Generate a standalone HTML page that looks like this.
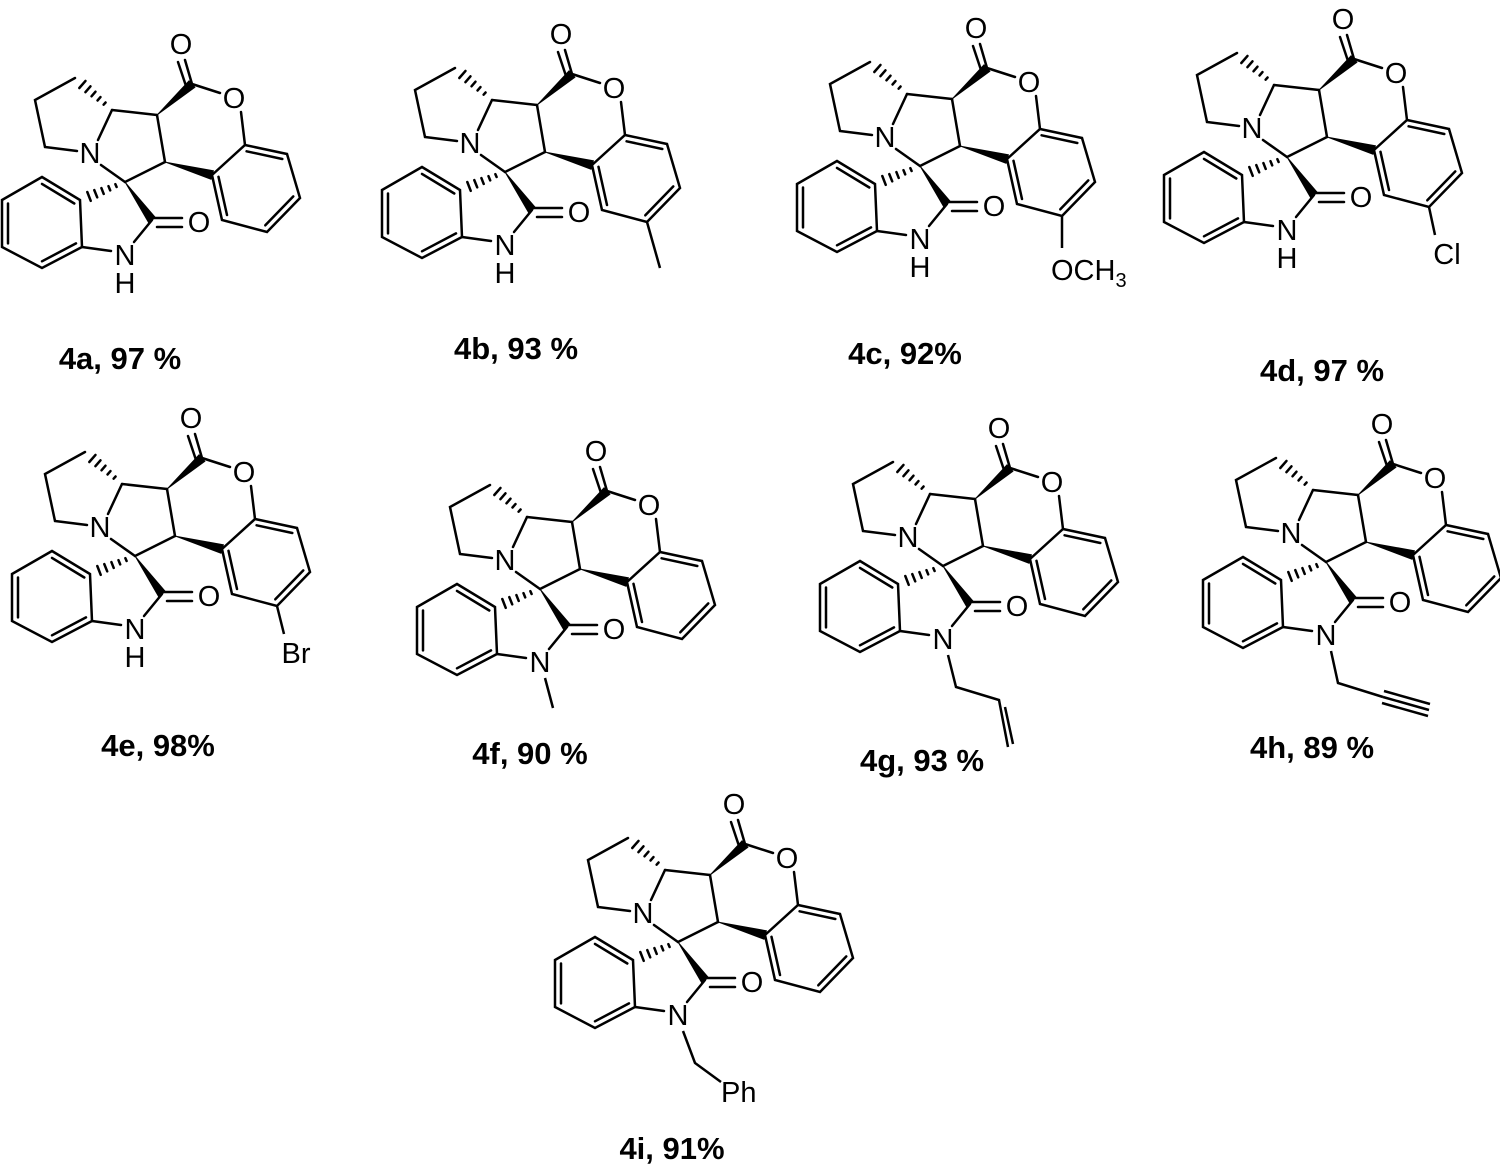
<!DOCTYPE html>
<html><head><meta charset="utf-8"><style>
html,body{margin:0;padding:0;background:#fff;}
svg{display:block;}
.a{font-family:"Liberation Sans",Arial,sans-serif;font-size:29px;fill:#000;text-anchor:middle;}
.l{font-family:"Liberation Sans",Arial,sans-serif;font-size:31px;font-weight:bold;fill:#000;text-anchor:middle;}
</style></head><body>
<svg width="1500" height="1166" viewBox="0 0 1500 1166" xmlns="http://www.w3.org/2000/svg">
<defs>
<g id="sk" stroke="#000" stroke-width="2.5" fill="none" stroke-linecap="round">
<polyline points="77,151 45,147 35,100 75,78"/>
<line x1="103.6" y1="104.7" x2="105.6" y2="102.5"/>
<line x1="97.5" y1="100.5" x2="100.5" y2="97.1"/>
<line x1="91.5" y1="96.3" x2="95.5" y2="91.7"/>
<line x1="85.4" y1="92.2" x2="90.5" y2="86.3"/>
<line x1="79.3" y1="88" x2="85.5" y2="80.9"/>
<line x1="112" y1="110" x2="98" y2="140"/>
<line x1="112" y1="110" x2="157" y2="115"/>
<line x1="192" y1="84" x2="220" y2="93"/>
<line x1="241" y1="112" x2="245" y2="145"/>
<line x1="192" y1="84" x2="185" y2="60"/>
<line x1="186" y1="86" x2="178" y2="62"/>
<polygon points="245,145 287,154 300,198 267,232 222,220 212,175"/>
<line x1="246.6" y1="151.3" x2="282.3" y2="159"/>
<line x1="293.3" y1="196.4" x2="265.3" y2="225.3"/>
<line x1="227" y1="215" x2="218.5" y2="176.8"/>
<line x1="157" y1="115" x2="165" y2="162"/>
<line x1="165" y1="162" x2="125" y2="182"/>
<line x1="101" y1="165" x2="125" y2="182"/>
<line x1="153" y1="218" x2="182" y2="218"/>
<line x1="157" y1="227" x2="182" y2="227"/>
<line x1="152" y1="220" x2="134" y2="242"/>
<line x1="111" y1="251" x2="82" y2="247"/>
<polygon points="80,200 82,247 42,268 2,247 2,200 42,177"/>
<line x1="42" y1="183.9" x2="74.3" y2="203.5"/>
<line x1="76" y1="243.4" x2="42" y2="261.3"/>
<line x1="8" y1="243.4" x2="8" y2="203.5"/>
<line x1="115.4" y1="184.2" x2="116.6" y2="187"/>
<line x1="108.5" y1="186.2" x2="110.2" y2="190.4"/>
<line x1="101.4" y1="188.1" x2="103.7" y2="193.9"/>
<line x1="94.3" y1="190.1" x2="97.2" y2="197.3"/>
<line x1="87.3" y1="192" x2="90.7" y2="200.8"/>
<polygon fill="#000" stroke-width="0.8" points="157,115 195,87.3 189,80.7"/>
<polygon fill="#000" stroke-width="0.8" points="165,162 211,179.3 213.5,170.7"/>
<polygon fill="#000" stroke-width="0.8" points="125,182 155.5,217.5 148.5,222.5"/>
</g>
</defs>

<!-- 4a -->
<g transform="translate(0,0)"><use href="#sk"/>
<text class="a" x="181" y="54">O</text><text class="a" x="234" y="108">O</text><text class="a" x="90" y="163">N</text><text class="a" x="199" y="232">O</text><text class="a" x="125" y="265">N</text><text class="a" x="125" y="293">H</text></g>
<!-- 4b -->
<g transform="translate(380,-10)"><use href="#sk"/>
<text class="a" x="181" y="54">O</text><text class="a" x="234" y="108">O</text><text class="a" x="90" y="163">N</text><text class="a" x="199" y="232">O</text><text class="a" x="125" y="265">N</text><text class="a" x="125" y="293">H</text>
<line x1="267" y1="232" x2="280" y2="278" stroke="#000" stroke-width="2.5"/></g>
<!-- 4c -->
<g transform="translate(795,-16)"><use href="#sk"/>
<text class="a" x="181" y="54">O</text><text class="a" x="234" y="108">O</text><text class="a" x="90" y="163">N</text><text class="a" x="199" y="232">O</text><text class="a" x="125" y="265">N</text><text class="a" x="125" y="293">H</text>
<line x1="267" y1="232" x2="267" y2="264" stroke="#000" stroke-width="2.5"/>
<text class="a" x="256" y="296" style="text-anchor:start">OCH<tspan font-size="20" dy="7">3</tspan></text></g>
<!-- 4d -->
<g transform="translate(1162,-25)"><use href="#sk"/>
<text class="a" x="181" y="54">O</text><text class="a" x="234" y="108">O</text><text class="a" x="90" y="163">N</text><text class="a" x="199" y="232">O</text><text class="a" x="125" y="265">N</text><text class="a" x="125" y="293">H</text>
<line x1="267" y1="232" x2="273" y2="260" stroke="#000" stroke-width="2.5"/>
<text class="a" x="285" y="289">Cl</text></g>
<!-- 4e -->
<g transform="translate(10,374)"><use href="#sk"/>
<text class="a" x="181" y="54">O</text><text class="a" x="234" y="108">O</text><text class="a" x="90" y="163">N</text><text class="a" x="199" y="232">O</text><text class="a" x="125" y="265">N</text><text class="a" x="125" y="293">H</text>
<line x1="267" y1="232" x2="274" y2="260" stroke="#000" stroke-width="2.5"/>
<text class="a" x="286" y="289">Br</text></g>
<!-- 4f -->
<g transform="translate(415,407)"><use href="#sk"/>
<text class="a" x="181" y="54">O</text><text class="a" x="234" y="108">O</text><text class="a" x="90" y="163">N</text><text class="a" x="199" y="232">O</text><text class="a" x="125" y="265">N</text>
<line x1="130" y1="271" x2="138" y2="301" stroke="#000" stroke-width="2.5"/></g>
<!-- 4g -->
<g transform="translate(818,384)"><use href="#sk"/>
<text class="a" x="181" y="54">O</text><text class="a" x="234" y="108">O</text><text class="a" x="90" y="163">N</text><text class="a" x="199" y="232">O</text><text class="a" x="125" y="265">N</text>
<polyline points="130,271 138,303 181,316 190,363" fill="none" stroke="#000" stroke-width="2.5"/>
<line x1="187" y1="323" x2="195" y2="360" stroke="#000" stroke-width="2.5"/></g>
<!-- 4h -->
<g transform="translate(1201,380)"><use href="#sk"/>
<text class="a" x="181" y="54">O</text><text class="a" x="234" y="108">O</text><text class="a" x="90" y="163">N</text><text class="a" x="199" y="232">O</text><text class="a" x="125" y="265">N</text>
<polyline points="130,271 137,303 182,317" fill="none" stroke="#000" stroke-width="2.5"/>
<line x1="182" y1="317" x2="228" y2="330" stroke="#000" stroke-width="2.5"/>
<line x1="183" y1="311" x2="229" y2="324" stroke="#000" stroke-width="2.5"/>
<line x1="181" y1="323" x2="227" y2="336" stroke="#000" stroke-width="2.5"/></g>
<!-- 4i -->
<g transform="translate(553,760)"><use href="#sk"/>
<text class="a" x="181" y="54">O</text><text class="a" x="234" y="108">O</text><text class="a" x="90" y="163">N</text><text class="a" x="199" y="232">O</text><text class="a" x="125" y="265">N</text>
<polyline points="130,271 142,303 168,322" fill="none" stroke="#000" stroke-width="2.5"/>
<text class="a" x="168" y="342" style="text-anchor:start">Ph</text></g>

<text class="l" x="120" y="369">4a, 97 %</text>
<text class="l" x="516" y="359">4b, 93 %</text>
<text class="l" x="905" y="364">4c, 92%</text>
<text class="l" x="1322" y="381">4d, 97 %</text>
<text class="l" x="158" y="756">4e, 98%</text>
<text class="l" x="530" y="764">4f, 90 %</text>
<text class="l" x="922" y="771">4g, 93 %</text>
<text class="l" x="1312" y="758">4h, 89 %</text>
<text class="l" x="672" y="1159">4i, 91%</text>
</svg>
</body></html>
